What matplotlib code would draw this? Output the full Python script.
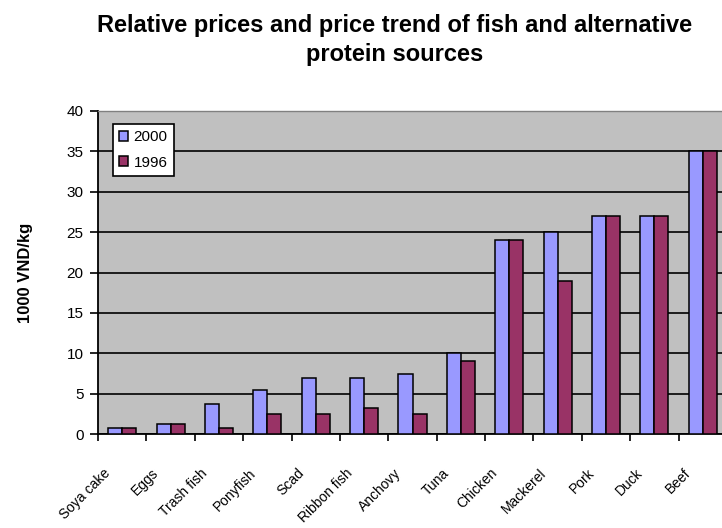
import matplotlib
matplotlib.use("Agg")
import matplotlib.pyplot as plt
import matplotlib.transforms as mtransforms
import numpy as np

categories = ["Soya cake", "Eggs", "Trash fish", "Ponyfish", "Scad", "Ribbon fish",
              "Anchovy", "Tuna", "Chicken", "Mackerel", "Pork", "Duck", "Beef"]
values_2000 = [0.7, 1.2, 3.7, 5.45, 6.95, 6.95, 7.45, 10, 24, 25, 27, 27, 35]
values_1996 = [0.7, 1.2, 0.7, 2.45, 2.45, 3.2, 2.45, 9.1, 24, 19, 27, 27, 35]
series_names = ["2000", "1996"]
y_ticks = [0, 5, 10, 15, 20, 25, 30, 35, 40]
title_lines = ["Relative prices and price trend of fish and alternative", "protein sources"]

plt.rcParams['font.family'] = ['Liberation Sans', 'DejaVu Sans']

fig = plt.figure(figsize=(7.22, 5.28), dpi=100)
ax = fig.add_axes([98/722, (528-434)/528, (727-98)/722, 323/528])
ax.set_facecolor('#C0C0C0')

x = np.arange(len(categories))
w = 0.29
ax.bar(x - w/2, values_2000, w, color='#9999FF', edgecolor='black', linewidth=1.1,
       label=series_names[0], zorder=3)
ax.bar(x + w/2, values_1996, w, color='#993366', edgecolor='black', linewidth=1.1,
       label=series_names[1], zorder=3)

ax.set_xlim(-0.5, len(categories) - 0.5)
ax.set_ylim(0, 40)
ax.set_yticks(y_ticks)
ax.set_yticklabels([str(v) for v in y_ticks], fontsize=11)
ax.yaxis.grid(True, color='black', linewidth=1.2, zorder=0)
ax.set_axisbelow(True)

ax.set_xticks(x)
ax.set_xticklabels(categories, rotation=45, ha='right', va='center',
                   rotation_mode='anchor', fontsize=10)
ax.tick_params(axis='x', which='major', length=0, pad=26.5)
offset = mtransforms.ScaledTranslation(-14/100, 0, fig.dpi_scale_trans)
for lab in ax.get_xticklabels():
    lab.set_transform(lab.get_transform() + offset)
ax.set_xticks(np.arange(-0.5, len(categories), 1), minor=True)
ax.tick_params(axis='x', which='minor', length=5, width=1.2, direction='out')
ax.tick_params(axis='y', length=5.5, width=1.2, direction='out', pad=5)

for s in ['top', 'right']:
    ax.spines[s].set_color('#808080')
    ax.spines[s].set_linewidth(1)
ax.spines['left'].set_linewidth(1.3)
ax.spines['bottom'].set_linewidth(1.3)

ax.set_ylabel("1000 VND/kg", fontsize=12, fontweight='bold')
ax.yaxis.set_label_coords((33 - 98) / 629, 0.5)

leg = ax.legend(loc='upper left', bbox_to_anchor=(15/629, 1 - 13/323), fontsize=11,
                frameon=True, fancybox=False, handlelength=0.6, handleheight=0.6,
                handletextpad=0.35, borderpad=0.4, labelspacing=0.75, borderaxespad=0)
leg.get_frame().set_edgecolor('black')
leg.get_frame().set_linewidth(1.2)
leg.get_frame().set_facecolor('white')
leg.get_frame().set_alpha(1)

fig.text(395/722, 1 - 32/528, title_lines[0], ha='center', va='baseline',
         fontsize=17, fontweight='bold')
fig.text(395/722, 1 - 61/528, title_lines[1], ha='center', va='baseline',
         fontsize=17, fontweight='bold')

fig.savefig("out.png", dpi=100)
